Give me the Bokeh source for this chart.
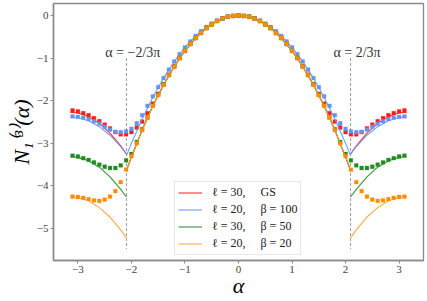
from bokeh.plotting import figure
from bokeh.models import Range1d, FixedTicker, Legend, LegendItem, Label
from bokeh.embed import file_html
from bokeh.resources import INLINE

# numerical alpha grid
alpha = [-3.1, -3.0, -2.9, -2.8, -2.7, -2.6, -2.5, -2.4, -2.3, -2.2, -2.1, -2.0, -1.9, -1.8, -1.7, -1.6,
         -1.5, -1.4, -1.3, -1.2, -1.1, -1.0, -0.9, -0.8, -0.7, -0.6, -0.5, -0.4, -0.3, -0.2, -0.1,
         0.0, 0.1, 0.2, 0.3, 0.4, 0.5, 0.6, 0.7, 0.8, 0.9, 1.0, 1.1, 1.2, 1.3, 1.4, 1.5,
         1.6, 1.7, 1.8, 1.9, 2.0, 2.1, 2.2, 2.3, 2.4, 2.5, 2.6, 2.7, 2.8, 2.9, 3.0, 3.1]

num_gs30 = [-2.23, -2.25, -2.29, -2.34, -2.41, -2.48, -2.56, -2.65, -2.74, -2.79, -2.79, -2.74, -2.63, -2.49, -2.29, -2.07,
            -1.84, -1.61, -1.39, -1.19, -1.00, -0.83, -0.67, -0.53, -0.41, -0.30, -0.21, -0.13, -0.07, -0.03, -0.01,
            0.00, -0.01, -0.03, -0.07, -0.13, -0.21, -0.30, -0.41, -0.53, -0.67, -0.83, -1.00, -1.19, -1.39, -1.61, -1.84,
            -2.07, -2.29, -2.49, -2.63, -2.74, -2.79, -2.79, -2.74, -2.65, -2.56, -2.48, -2.41, -2.34, -2.29, -2.25, -2.23]

num_b100 = [-2.37, -2.38, -2.40, -2.43, -2.48, -2.54, -2.61, -2.68, -2.73, -2.74, -2.72, -2.66, -2.53, -2.34, -2.12, -1.90,
            -1.68, -1.47, -1.27, -1.08, -0.91, -0.75, -0.61, -0.48, -0.37, -0.27, -0.19, -0.12, -0.07, -0.03, -0.01,
            0.00, -0.01, -0.03, -0.07, -0.12, -0.19, -0.27, -0.37, -0.48, -0.61, -0.75, -0.91, -1.08, -1.27, -1.47, -1.68,
            -1.90, -2.12, -2.34, -2.53, -2.66, -2.72, -2.74, -2.73, -2.68, -2.61, -2.54, -2.48, -2.43, -2.40, -2.38, -2.37]

num_b50 = [-3.29, -3.31, -3.35, -3.39, -3.45, -3.50, -3.55, -3.58, -3.58, -3.52, -3.40, -3.25, -2.97, -2.67, -2.39, -2.11,
           -1.86, -1.62, -1.40, -1.20, -1.00, -0.83, -0.67, -0.53, -0.41, -0.30, -0.21, -0.13, -0.07, -0.03, -0.01,
           0.00, -0.01, -0.03, -0.07, -0.13, -0.21, -0.30, -0.41, -0.53, -0.67, -0.83, -1.00, -1.20, -1.40, -1.62, -1.86,
           -2.11, -2.39, -2.67, -2.97, -3.25, -3.40, -3.52, -3.58, -3.58, -3.55, -3.50, -3.45, -3.39, -3.35, -3.31, -3.29]

num_b20 = [-4.25, -4.26, -4.28, -4.31, -4.34, -4.35, -4.32, -4.25, -4.12, -3.91, -3.62, -3.30, -3.00, -2.69, -2.40, -2.12,
           -1.87, -1.63, -1.40, -1.20, -1.00, -0.83, -0.67, -0.53, -0.41, -0.30, -0.21, -0.13, -0.07, -0.03, -0.01,
           0.00, -0.01, -0.03, -0.07, -0.13, -0.21, -0.30, -0.41, -0.53, -0.67, -0.83, -1.00, -1.20, -1.40, -1.63, -1.87,
           -2.12, -2.40, -2.69, -3.00, -3.30, -3.62, -3.91, -4.12, -4.25, -4.32, -4.35, -4.34, -4.31, -4.28, -4.26, -4.25]

# theory curves: central branch |alpha| < 2pi/3
alpha_c = [-2.094, -2.0, -1.8, -1.6, -1.4, -1.2, -1.0, -0.8, -0.6, -0.4, -0.2, 0.0,
           0.2, 0.4, 0.6, 0.8, 1.0, 1.2, 1.4, 1.6, 1.8, 2.0, 2.094]
th_c_gs30 = [-3.64, -3.32, -2.69, -2.12, -1.63, -1.20, -0.83, -0.53, -0.30, -0.13, -0.03, 0.0,
             -0.03, -0.13, -0.30, -0.53, -0.83, -1.20, -1.63, -2.12, -2.69, -3.32, -3.64]
th_c_b100 = [-3.29, -3.00, -2.43, -1.92, -1.47, -1.08, -0.75, -0.48, -0.27, -0.12, -0.03, 0.0,
             -0.03, -0.12, -0.27, -0.48, -0.75, -1.08, -1.47, -1.92, -2.43, -3.00, -3.29]
th_c_b50 = [-3.64, -3.32, -2.69, -2.12, -1.63, -1.20, -0.83, -0.53, -0.30, -0.13, -0.03, 0.0,
            -0.03, -0.13, -0.30, -0.53, -0.83, -1.20, -1.63, -2.12, -2.69, -3.32, -3.64]
th_c_b20 = [-3.64, -3.32, -2.69, -2.12, -1.63, -1.20, -0.83, -0.53, -0.30, -0.13, -0.03, 0.0,
            -0.03, -0.13, -0.30, -0.53, -0.83, -1.20, -1.63, -2.12, -2.69, -3.32, -3.64]

# outer branches
alpha_l = [-3.1416, -3.0, -2.8, -2.6, -2.4, -2.2, -2.094]
alpha_r = [2.094, 2.2, 2.4, 2.6, 2.8, 3.0, 3.1416]
th_o_gs30 = [-3.25, -3.06, -2.76, -2.53, -2.37, -2.29, -2.27]
th_o_b100 = [-3.25, -3.08, -2.81, -2.61, -2.47, -2.40, -2.38]
th_o_b50 = [-4.26, -4.08, -3.79, -3.56, -3.41, -3.33, -3.31]
th_o_b20 = [-5.22, -5.03, -4.73, -4.51, -4.35, -4.27, -4.25]

labels = ["\u2113 = 30,\u2003 GS", "\u2113 = 20,\u2003 \u03b2 = 100",
          "\u2113 = 30,\u2003 \u03b2 = 50", "\u2113 = 20,\u2003 \u03b2 = 20"]
colors = ["#ff1a1a", "#6495ed", "#228b22", "#ff8c00"]
line_colors = ["#ff1a1a", "#6495ed", "#228b22", "#ffa033"]

x_ticks = [-3, -2, -1, 0, 1, 2, 3]
y_ticks = [-5, -4, -3, -2, -1, 0]
vline_x = [-2.094, 2.094]
vline_top = -1.0
vline_bottom = -5.48
vline_text = ["\u03b1 = \u22122/3\u03c0", "\u03b1 = 2/3\u03c0"]

SERIF = "Liberation Serif"

p = figure(width=427, height=301, output_backend="svg", toolbar_location=None,
           x_range=Range1d(-3.456, 3.456), y_range=Range1d(-5.75, 0.28),
           min_border_left=53, min_border_right=4, min_border_top=3, min_border_bottom=41)
p.background_fill_color = "white"
p.border_fill_color = "white"
p.outline_line_color = "#8a8a8a"
p.outline_line_width = 1.3
p.xgrid.visible = False
p.ygrid.visible = False

for ax in (p.xaxis[0], p.yaxis[0]):
    ax.axis_line_color = "#8a8a8a"
    ax.axis_line_width = 1.5
    ax.major_tick_line_color = "#8a8a8a"
    ax.major_tick_out = 3
    ax.major_tick_in = 0
    ax.minor_tick_out = 0
    ax.minor_tick_in = 0
    ax.major_label_text_font = SERIF
    ax.major_label_text_font_size = "11px"
    ax.major_label_text_color = "#444444"
    ax.major_label_standoff = 2
    ax.axis_label_text_font = SERIF
    ax.axis_label_text_font_style = "italic"
    ax.axis_label_text_color = "black"

p.xaxis.axis_label_standoff = -3
p.yaxis.axis_label_standoff = 0
p.xaxis.ticker = FixedTicker(ticks=x_ticks)
p.yaxis.ticker = FixedTicker(ticks=y_ticks)
p.xaxis.major_label_overrides = {t: (str(t) if t >= 0 else "\u2212" + str(-t)) for t in x_ticks}
p.yaxis.major_label_overrides = {t: (str(t) if t >= 0 else "\u2212" + str(-t)) for t in y_ticks}
p.xaxis.axis_label = "\u03b1"
p.xaxis.axis_label_text_font_size = "22px"
p.yaxis.axis_label = "N\u2081\u207d\u00b3\u207e(\u03b1)"
p.yaxis.axis_label_text_font_size = "22px"

# dashed verticals
p.segment(x0=vline_x, y0=[vline_top] * 2, x1=vline_x, y1=[vline_bottom] * 2,
          line_color="#999999", line_width=1, line_dash="3 2")
for xv, txt in zip(vline_x, vline_text):
    p.add_layout(Label(x=xv + 0.12, y=-0.88, text=txt, text_align="center", text_baseline="middle",
                       text_font=SERIF, text_font_size="14px", text_color="#333333"))

series = [
    (num_gs30, th_c_gs30, th_o_gs30),
    (num_b100, th_c_b100, th_o_b100),
    (num_b50, th_c_b50, th_o_b50),
    (num_b20, th_c_b20, th_o_b20),
]

items = []
for (num, thc, tho), col, lcol, lab in zip(series, colors, line_colors, labels):
    r = p.line(alpha_c, thc, line_color=lcol, line_width=1.1, line_alpha=0.9)
    p.line(alpha_r, tho, line_color=lcol, line_width=1.1, line_alpha=0.9)
    p.line(alpha_l, tho[::-1], line_color=lcol, line_width=1.1, line_alpha=0.9)
    p.scatter(alpha, num, marker="square", size=3.8, fill_color=col, line_color=col, line_width=0.3)
    items.append(LegendItem(label=lab, renderers=[r]))

legend = Legend(items=items, location=(121, 5), orientation="vertical",
                label_text_font=SERIF, label_text_font_size="12px", label_text_color="#222222",
                glyph_width=24, glyph_height=13, label_height=13, label_standoff=10,
                spacing=2, padding=3, margin=0,
                border_line_color="#d0d0d0", border_line_width=1,
                background_fill_color="white", background_fill_alpha=0.85)
p.add_layout(legend, "center")

open("out.html", "w").write(file_html(p, INLINE))
